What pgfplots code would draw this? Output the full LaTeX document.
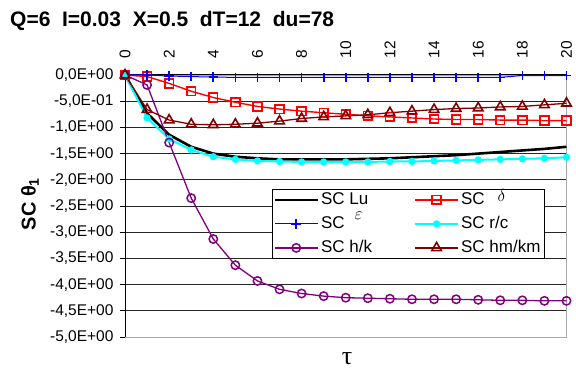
\documentclass[border=0pt]{standalone}
\usepackage{fontspec}
\setmainfont{Liberation Sans}
\newfontfamily\serifgreek{Liberation Serif}
\usepackage{pgfplots}
\pgfplotsset{compat=1.18}
\definecolor{cpurple}{RGB}{128,0,128}
\definecolor{cbrown}{RGB}{128,0,0}
\definecolor{cgray}{RGB}{170,170,170}
\definecolor{cblue}{RGB}{0,0,255}
\definecolor{cred}{RGB}{255,0,0}
\definecolor{ccyan}{RGB}{0,255,255}
\begin{document}
\begin{tikzpicture}[x=1pt,y=1pt]
\path[use as bounding box] (0,0) rectangle (576,371);
\node[anchor=base west, font=\bfseries\fontsize{21}{24}\selectfont, inner sep=0] at (10,344) {Q=6\ \ I=0.03\ \ X=0.5\ \ dT=12\ \ du=78};
\begin{axis}[
  at={(125pt,34pt)}, anchor=south west, scale only axis,
  width=441.5pt, height=262pt,
  xmin=0, xmax=20, ymin=-5, ymax=0,
  clip=false,
  axis line style={cgray, line width=0.8pt},
  xtick={0,2,...,20}, xticklabel pos=right, xtick style={draw=none},
  xticklabel style={rotate=90, anchor=west, font=\fontsize{15.5}{18}\selectfont},
  xticklabel shift=8pt,
  /pgf/number format/assume math mode=true,
  ytick={-5,-4.5,-4,-3.5,-3,-2.5,-2,-1.5,-1,-0.5,0},
  yticklabels={{-5,0E+00},{-4,5E+00},{-4,0E+00},{-3,5E+00},{-3,0E+00},{-2,5E+00},{-2,0E+00},{-1,5E+00},{-1,0E+00},{-5,0E-01},{0,0E+00}},
  ytick pos=left, tick align=outside, major tick length=5pt,
  ytick style={black, line width=0.8pt},
  yticklabel style={font=\fontsize{15.5}{18}\selectfont, xshift=-3pt},
  ymajorgrids, grid style={black!85, line width=0.8pt},
  legend style={at={(0.332,0.564)}, anchor=north west, draw=black, line width=0.8pt,
    fill=white, font=\fontsize{17}{20}\selectfont, inner sep=1.5pt,
    nodes={inner xsep=2pt, inner ysep=1pt, text height=12pt, text depth=3.5pt},
    /tikz/every even column/.append style={column sep=40pt}, row sep=6.5pt},
  legend columns=2, legend cell align=left,
  legend image code/.code={\draw[mark repeat=2,mark phase=2,#1] plot coordinates {(0pt,0pt) (21.5pt,0pt) (43pt,0pt)};},
]
\draw[black, line width=1pt] (axis cs:0,-5) -- (axis cs:0,0) -- (axis cs:20,0);
\addplot[black, line width=2.6pt, mark=none] coordinates {
(0,0)(1,-0.73)(2,-1.14)(3,-1.37)(4,-1.50)(5,-1.56)(6,-1.59)(7,-1.61)(8,-1.61)(9,-1.61)(10,-1.61)(11,-1.60)(12,-1.59)(13,-1.57)(14,-1.55)(15,-1.53)(16,-1.50)(17,-1.47)(18,-1.44)(19,-1.41)(20,-1.37)};
\addlegendentry{SC Lu}
\addplot[cred, line width=1.4pt, mark=square, mark size=4.3pt, mark options={solid, line width=1.7pt}] coordinates {
(0,0)(1,-0.03)(2,-0.16)(3,-0.31)(4,-0.43)(5,-0.52)(6,-0.60)(7,-0.65)(8,-0.69)(9,-0.72)(10,-0.75)(11,-0.78)(12,-0.80)(13,-0.82)(14,-0.84)(15,-0.85)(16,-0.85)(17,-0.86)(18,-0.86)(19,-0.87)(20,-0.87)};
\addlegendentry{SC\hspace{13pt}\smash{\raisebox{3pt}{$\delta$}}}
\addplot[cblue, line width=1pt, mark=+, mark size=4.8pt, mark options={line width=1.7pt}] coordinates {
(0,0)(1,0)(2,-0.02)(3,-0.03)(4,-0.04)(5,-0.045)(6,-0.045)(7,-0.045)(8,-0.045)(9,-0.045)(10,-0.045)(11,-0.045)(12,-0.045)(13,-0.045)(14,-0.045)(15,-0.045)(16,-0.045)(17,-0.045)(18,-0.01)(19,-0.01)(20,-0.01)};
\addlegendentry{SC\hspace{10pt}\smash{\raisebox{9pt}{$\varepsilon$}}}
\addplot[ccyan, line width=2pt, mark=*, mark size=2.6pt] coordinates {
(0,0)(1,-0.82)(2,-1.22)(3,-1.43)(4,-1.56)(5,-1.61)(6,-1.64)(7,-1.65)(8,-1.66)(9,-1.66)(10,-1.66)(11,-1.66)(12,-1.65)(13,-1.65)(14,-1.64)(15,-1.63)(16,-1.62)(17,-1.61)(18,-1.60)(19,-1.59)(20,-1.57)};
\addlegendentry{SC r/c}
\addplot[cpurple, line width=1.3pt, mark=o, mark size=4.2pt, mark options={line width=1.5pt}] coordinates {
(0,0)(1,-0.19)(2,-1.29)(3,-2.35)(4,-3.13)(5,-3.63)(6,-3.93)(7,-4.09)(8,-4.17)(9,-4.22)(10,-4.25)(11,-4.26)(12,-4.27)(13,-4.28)(14,-4.28)(15,-4.28)(16,-4.29)(17,-4.30)(18,-4.30)(19,-4.31)(20,-4.31)};
\addlegendentry{SC h/k}
\addplot[cbrown, line width=1.3pt, mark=triangle, mark size=5.5pt, mark options={line width=1.6pt}] coordinates {
(0,0)(1,-0.66)(2,-0.86)(3,-0.94)(4,-0.95)(5,-0.94)(6,-0.92)(7,-0.88)(8,-0.83)(9,-0.80)(10,-0.78)(11,-0.76)(12,-0.72)(13,-0.69)(14,-0.66)(15,-0.64)(16,-0.63)(17,-0.61)(18,-0.60)(19,-0.57)(20,-0.54)};
\addlegendentry{SC hm/km}
\end{axis}
\node[rotate=90, font=\bfseries\fontsize{20}{24}\selectfont] at (30,167) {SC θ\textsubscript{1}};
\node[font=\serifgreek\fontsize{26}{30}\selectfont, inner sep=0] at (347,12) {τ};
\end{tikzpicture}
\end{document}
